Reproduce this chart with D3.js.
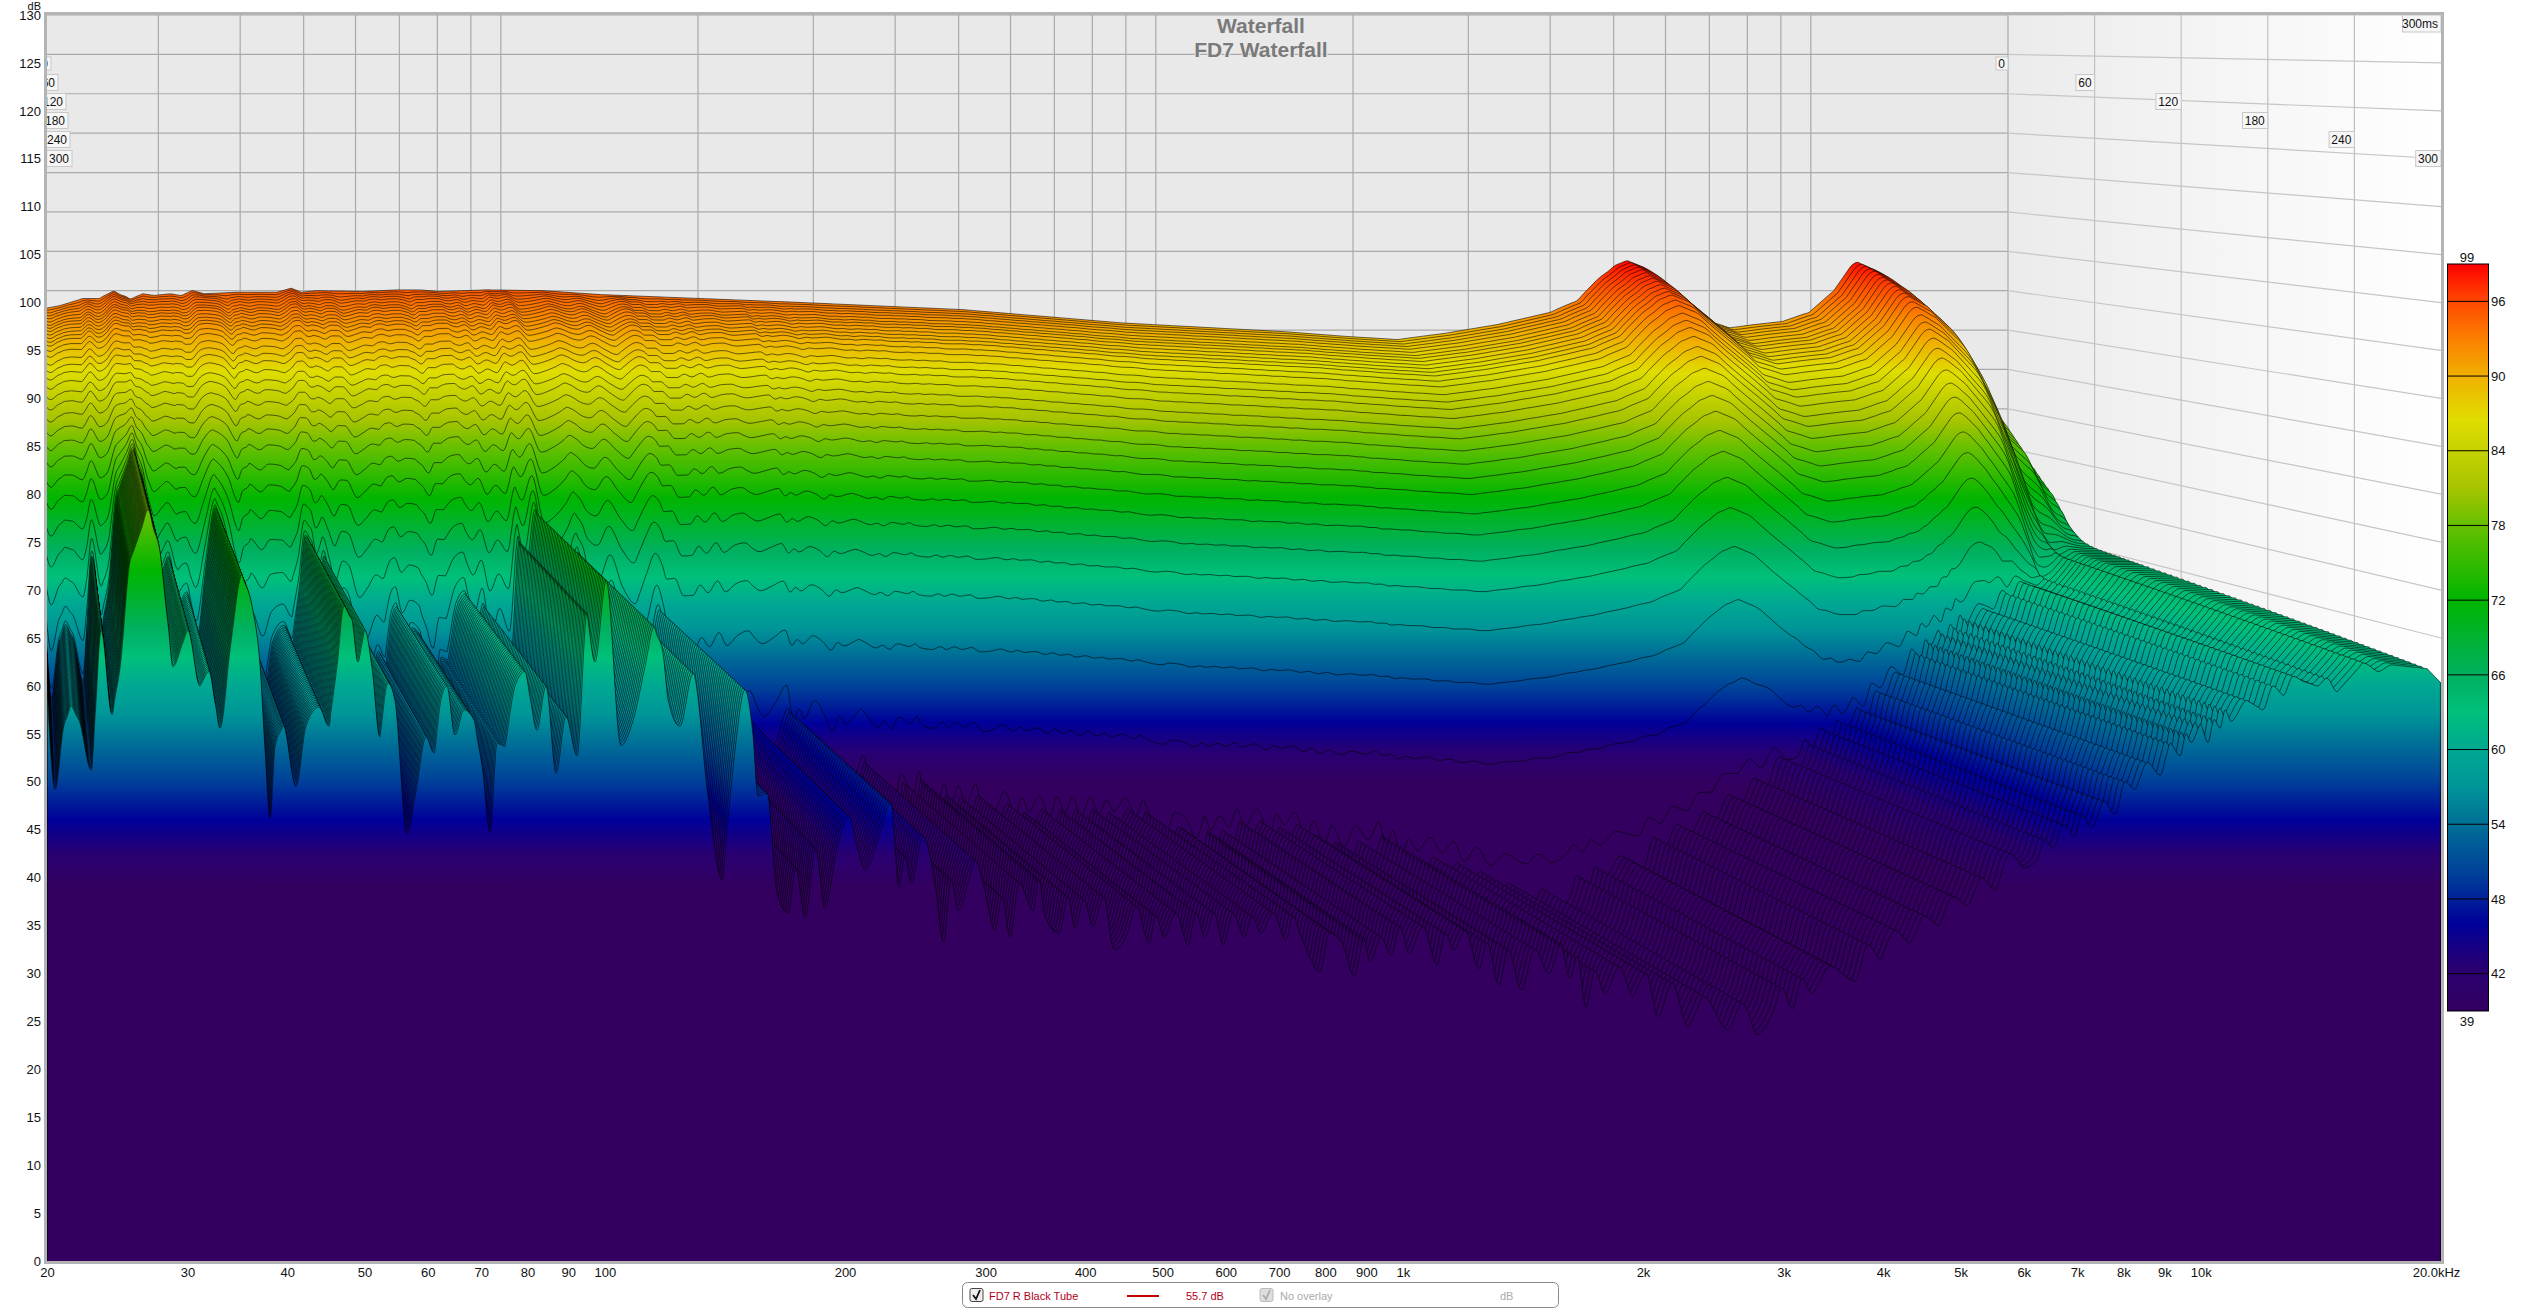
<!DOCTYPE html>
<html><head><meta charset="utf-8">
<script src="https://cdn.jsdelivr.net/npm/d3@7"></script>
<style>
html,body{margin:0;padding:0;background:#fff;}
svg{display:block;font-family:"Liberation Sans",Arial,sans-serif;}
</style></head><body><svg id="c" width="2523" height="1310"></svg>
<script>
// Values: the first slice (topHz/topDb), the last slice (noiseHz/noiseDb),
// the fall of the visible contour lines (decayDb) and how it varies with frequency (rateHz/rateVal).
// NOTE: the ~80 individual slices cannot each be read, so the slices between the first and the last
// are computed below from these read arrays; they are an approximation, not per-slice readings.
const topHz=[20,21.2,21.8,23,24.3,25.6,26.3,27.2,28.4,29.6,31.2,32.5,33.9,35.2,39.4,45.4,47.9,49.6,52.3,61.7,69.2,75.1,80.6,95.1,116,142.5,288,506,891,1571,1950,2337,2767,3322,3975,4387,4706,5050,5251,5550,5960,6395,6934,7540,8200,9058,9955,10840,11460,11790,12610,13720,14930,15790,16530,17500,18500,19300,19700,20000];
const topDb=[92.7,93.1,93.4,94,94,94.9,94.4,93.9,94.6,94.4,94.6,94.4,95,94.6,94.8,94.8,95.3,94.8,95,94.9,95.1,95.1,94.9,95.1,95,94.5,93.5,92.6,90.9,89.8,89.2,88.8,89.6,90.7,92.2,93.7,96.3,98.3,98.8,98,95.8,93.7,91.2,90.3,90.7,91.1,92.3,95,97.9,98.6,97.5,95,91.5,88,84.5,83,79,77.5,75,70];
const noiseHz=[20,20.47,20.99,21.43,21.94,22.72,23.38,24.13,24.7,25.41,26.77,27.71,28.19,28.76,30.03,31.09,31.92,32.95,34.12,35.11,36.14,36.99,37.52,38.07,38.62,39.52,41.02,42.22,43.84,45.12,46.17,47.11,48.21,49.05,50.05,51.07,52.26,53.48,54.57,56.5,58,59.7,61.1,62.3,63.4,64.9,66.6,68.6,70.2,71.8,73.3,75,77.2,79.4,82.2,84.4,86.9,89.4,92.3,95,97.2,100.4,104.8,108.5,112.3,115.3,118.3,120.1,124.2,129,134.7,140.2,145.6,149.8,153.3,155.6,159.7,164.4,169.7,173.6,178.2,183.9,188.7,195.4,202.3,207.6,211.9,220.6,228.3,233.7,237.8,242,250.5,259.3,265.7,271.6,277.1,291.1,297.9,308.3,314.6,322,330.4,344.1,350.1,356.2,370.9,380.6,388.3,398.5,409,421.6,434.6,449.9,463.8,480.8,490.6,502.8,519.7,538,550.6,565,580,595.6,613,632.5,647,664,688,714,728.6,743,787.5,809,839,869,892,910,939,967,992,1018,1060,1104,1130,1159,1197,1246,1275,1320,1355,1407,1464,1524,1575,1620,1654,1696,1741,1792,1867,1944,2018,2088,2175,2277,2382,2556,2662,2771,2911,2986,3075,3165,3257,3430,3689,3828,3974,4139,4322,4500,4700,4893,5094,5304,5539,5767,5989,6218,6382,6530,6721,6939,7100,7289,7545,7811,8040,8250,8566,8895,9153,9421,9587,9726,9980,10210,10390,10570,10730,10910,11420,11960,12320,12680,13050,13430,13990,14390,14820,15200,15970,16680,17360,19220,20000];
const noiseDb=[60,49.2,55.8,57.9,56.4,51.2,65.8,57,62,73,78.4,74,68.3,62,65.8,60,61.5,55.6,65.5,71.6,68.3,62,53.3,46.2,53.7,55.9,49.5,55.8,57.8,55.8,62,68.3,66.9,62.5,65.8,62,54.7,60.3,58.5,44.6,49,54.7,53,58.5,60,54.9,57.5,56.4,51.6,44.8,54,53.7,60,61.5,55.4,60,50.9,56.8,52.7,67.6,62.5,71,53.8,56.4,62,66.2,63.4,58.5,55.8,61.3,48.5,39.8,53.3,59.6,55,48.5,48.8,38.4,36.3,41,35.8,43,36.8,43,46.4,42.9,40.8,44.3,47.8,39,42.2,39.4,44.3,39.4,33.3,39.8,36.6,41.8,39.4,34.5,38,33.8,39.4,36.6,39.8,35.9,34.2,38,34.7,37.7,34.9,38,32.5,33.8,37,33.2,36,33.7,36.3,33,36.3,33.8,36.3,33,36.3,33.8,36,34.2,36.3,33.5,36,34.2,30.2,34.2,33.2,29.7,33.8,31.2,33.8,31.9,34.9,32.1,34.9,30.9,34.2,32.5,34.5,30.5,33.2,28.8,32.5,28.3,32.5,30,33.2,29.5,31.8,26.5,30.3,27.9,30.7,27.6,30,25.5,29,24.5,27.6,24.1,26.9,23.6,26,28.5,26.3,29.5,27.9,30.8,29.2,33,31.5,34.5,33.2,36,35,38,37.1,40,38.7,42.5,41,41.7,44,43.1,45.5,44.3,46.5,45.2,48,46.6,50,49.2,52,50.7,54,52.7,55,54.1,56,54.1,56.5,55.6,57.5,56.3,58.5,57.5,60,59,61,60.5,60,60.8,59.4,60.4,62.4,61.5,62.2,61.8,60.3];
const decayDb=[0,.17,.38,.6,.85,1.15,1.45,1.7,2,2.35,2.7,3.05,3.4,3.95,4.55,5.4,6.2,7,8,9.15,10.25,11.6,13.1,14.7,16.5,18.7,21.1,24.1,27.6,32.1,38.3,47.7,61,85,110,150];
const rippleGain=[0,.01,.02,.03,.035,.04,.045,.05,.05,.05,.05,.055,.06,.06,.065,.07,.07,.075,.08,.08,.09,.09,.1,.11,.12,.14,.16,.18,.2,.22,.25,.35,.5,.6,.6,.6];
const rateHz=[20,12000,14000,16500,20000];
const rateVal=[1,1,1.2,2,2.6];
const rippleHz=[20,150,300,1000,3000,20000];
const rippleWeight=[1,1,.4,.2,.08,.08];
const liftHz=[20,8000,20000];
const liftDb=[0,0,5];
const colorDb=[99,96,93,90,86.5,81,78,72,66,63,60,57,54,50,46,42.5,39];
const colorHex=["#ff0000","#ff4800","#fb8000","#f0b000","#e0dd00","#a6c400","#66c000","#00b500","#00b060","#00c07a","#00a892","#009598","#006f97","#004099","#000099","#290072","#330060"];
// Slice times: the shift of the contour peaks gives about 3.17 ms per slice for the first 33,
// the spacing of the hatching about 4.05 ms per slice after that.
const earlySliceMs=d3.range(0,33).map(k=>k*3.17);
const lateSliceMs=d3.range(1,50).map(k=>101.44+k*(300-101.44)/49);
const sliceMs=earlySliceMs.concat(lateSliceMs);
const yTicks=d3.range(0,131,5);
const xTickHz=[20,30,40,50,60,70,80,90,100,200,300,400,500,600,700,800,900,1000,2000,3000,4000,5000,6000,7000,8000,9000,10000,20000];
const xTickText=["20","30","40","50","60","70","80","90","100","200","300","400","500","600","700","800","900","1k","2k","3k","4k","5k","6k","7k","8k","9k","10k","20.0kHz"];
const gridHz=[30,40,50,60,70,80,90,100,200,300,400,500,600,700,800,900,1000,2000,3000,4000,5000,6000,7000,8000,9000,10000,20000];
const timeMs=[0,60,120,180,240,300];
const barTicks=[96,90,84,78,72,66,60,54,48,42];

const svg=d3.select("#c");
const L=47,R=2441,T=15,B=1261;
const xFront=d3.scaleLog().domain([20,20000]).range([L,R]);
const xBack=d3.scaleLog().domain([20,20000]).range([43,2008]);
const yFront=d3.scaleLinear().domain([0,130]).range([B,T]);
const yBack=d3.scaleLinear().domain([0,130]).range([1039,T]);
const tX=d3.scaleLinear().domain([0,300]).range([2008,2441]);
const tY=d3.scaleLinear().domain([0,300]).range([63.5,158.5]);
const depth=d3.scaleLinear().domain([0,300]).range([0,1]);
const mix=(a,b,p)=>a+(b-a)*p;
const defs=svg.append("defs");
defs.append("clipPath").attr("id","plot").append("rect").attr("x",L).attr("y",T).attr("width",R-L).attr("height",B-T);
const wall=defs.append("linearGradient").attr("id","wall").attr("gradientUnits","userSpaceOnUse").attr("x1",2008).attr("x2",2441).attr("y1",0).attr("y2",0);
wall.append("stop").attr("offset",0).attr("stop-color","#ebebeb");
wall.append("stop").attr("offset",1).attr("stop-color","#ffffff");
function addStops(g){colorDb.forEach((d,i)=>g.append("stop").attr("offset",(99-d)/60).attr("stop-color",colorHex[i]));}

const plot=svg.append("g").attr("clip-path","url(#plot)");
plot.append("rect").attr("x",L).attr("y",T).attr("width",2008-L).attr("height",B-T).attr("fill","#e9e9e9");
plot.append("rect").attr("x",2008).attr("y",T).attr("width",R-2008).attr("height",B-T).attr("fill","url(#wall)");
plot.selectAll(".gv").data(gridHz).join("line").attr("x1",d=>xBack(d)).attr("x2",d=>xBack(d)).attr("y1",T).attr("y2",1039).attr("stroke","#aaa").attr("stroke-width",1.2);
plot.selectAll(".gh").data(yTicks).join("line").attr("x1",L).attr("x2",2008).attr("y1",d=>yBack(d)).attr("y2",d=>yBack(d)).attr("stroke","#aaa").attr("stroke-width",1.2);
plot.selectAll(".rh").data(yTicks).join("line").attr("x1",2008).attr("x2",R).attr("y1",d=>yBack(d)).attr("y2",d=>yFront(d)).attr("stroke","#c6c6c6").attr("stroke-width",1.2);
plot.selectAll(".rv").data(timeMs.slice(1,5)).join("line").attr("x1",d=>tX(d)).attr("x2",d=>tX(d)).attr("y1",T).attr("y2",B).attr("stroke","#c0c0c0").attr("stroke-width",1.2);

const grid=Array.from(new Set(noiseHz.concat(topHz))).sort((a,b)=>a-b);
const topAt=d3.scaleLog().domain(topHz).range(topDb);
const noiseAt=d3.scaleLog().domain(noiseHz).range(noiseDb);
const rateAt=d3.scaleLog().domain(rateHz).range(rateVal);
const weightAt=d3.scaleLog().domain(rippleHz).range(rippleWeight);
const liftAt=d3.scaleLog().domain(liftHz).range(liftDb);
const noiseVals=grid.map(f=>noiseAt(f));
const ripple=grid.map((f,i)=>{
  const near=grid.map((g,j)=>Math.abs(Math.log10(g/f))<0.05?noiseVals[j]:null).filter(v=>v!==null);
  return noiseVals[i]-d3.mean(near);
});
function sliceLevels(k,p){
  const d=k<decayDb.length?decayDb[k]:null, g=k<rippleGain.length?rippleGain[k]:0;
  return grid.map((f,i)=>{
    const n=noiseVals[i]+liftAt(f)*(1-p);
    if(d===null) return n;
    const a=topAt(f)-d*rateAt(f)+g*weightAt(f)*ripple[i];
    return 10*Math.log10(Math.pow(10,a/10)+Math.pow(10,n/10));
  });
}
const curve=d3.curveMonotoneX;
sliceMs.forEach((ms,k)=>{
  const p=depth(ms);
  const lv=sliceLevels(k,p);
  const pts=grid.map((f,i)=>[mix(xBack(f),xFront(f),p),mix(yBack(lv[i]),yFront(lv[i]),p)]);
  const id="s"+k;
  const gr=defs.append("linearGradient").attr("id",id).attr("gradientUnits","userSpaceOnUse")
    .attr("x1",0).attr("x2",0).attr("y1",mix(yBack(99),yFront(99),p)).attr("y2",mix(yBack(39),yFront(39),p));
  addStops(gr);
  plot.append("path").attr("d",d3.area().x(d=>d[0]).y1(d=>d[1]).y0(B+4).curve(curve)(pts)).attr("fill","url(#"+id+")");
  plot.append("path").attr("d",d3.line().x(d=>d[0]).y(d=>d[1]).curve(curve)(pts)).attr("fill","none").attr("stroke","#000").attr("stroke-opacity",.72).attr("stroke-width",.8);
  if(k===sliceMs.length-1){
    const last=pts[pts.length-1];
    plot.append("line").attr("x1",last[0]-.6).attr("x2",last[0]-.6).attr("y1",last[1]).attr("y2",B).attr("stroke","#000").attr("stroke-opacity",.55);
    plot.append("line").attr("x1",L+.5).attr("x2",L+.5).attr("y1",pts[0][1]).attr("y2",B).attr("stroke","#000").attr("stroke-opacity",.55);
  }
});

function timeBox(parent,xRight,y,txt,h){
  const w=txt.length*6.6+5.5;
  parent.append("rect").attr("x",xRight-w).attr("y",y-h/2).attr("width",w).attr("height",h).attr("fill","#f6f6f6").attr("stroke","#c8c8c8").attr("stroke-width",1);
  parent.append("text").attr("x",xRight-3).attr("y",y).attr("dy","0.36em").attr("text-anchor","end").attr("font-size",12).attr("fill","#111").text(txt);
}
const leftRight=[51,58,66,68,70,72];
timeMs.forEach((t,i)=>{
  timeBox(plot,tX(t),tY(t),String(t),i===0?13:16);
  timeBox(plot,leftRight[i],tY(t),String(t),i===0?13:16);
});
timeBox(plot,R,23.5,"300ms",17);

svg.append("rect").attr("x",L-1.5).attr("y",T-1.5).attr("width",R-L+3).attr("height",B-T+3).attr("fill","none").attr("stroke","#b4b4b4").attr("stroke-width",3);

const ax=svg.append("g").attr("transform","translate(0,"+(B+4)+")").call(d3.axisBottom(xFront).tickValues(xTickHz).tickSize(0).tickPadding(3).tickFormat((d,i)=>xTickText[i]));
ax.select(".domain").remove();
ax.selectAll("text").attr("font-size",13).attr("font-family","inherit").attr("fill","#111");
ax.selectAll(".tick").filter(d=>d===20000).select("text").attr("dx",-5);
const ay=svg.append("g").attr("transform","translate("+L+",0)").call(d3.axisLeft(yFront).tickValues(yTicks).tickSize(0).tickPadding(6));
ay.select(".domain").remove();
ay.selectAll("text").attr("font-size",13).attr("font-family","inherit").attr("fill","#111");
svg.append("text").attr("x",41).attr("y",10).attr("text-anchor","end").attr("font-size",11).attr("fill","#111").text("dB");

[["Waterfall",25],["FD7 Waterfall",49]].forEach(d=>{
  svg.append("text").attr("x",1261).attr("y",d[1]).attr("dy","0.36em").attr("text-anchor","middle").attr("font-size",21).attr("font-weight","bold").attr("fill","#7a7a7a").attr("stroke","#e9e9e9").attr("stroke-width",2).attr("paint-order","stroke").text(d[0]);
});

const barY=d3.scaleLinear().domain([39,99]).range([1011,264]);
const bg=defs.append("linearGradient").attr("id","bar").attr("x1",0).attr("x2",0).attr("y1",0).attr("y2",1);
addStops(bg);
svg.append("rect").attr("x",2447.5).attr("y",barY(99)).attr("width",41).attr("height",barY(39)-barY(99)).attr("fill","url(#bar)").attr("stroke","#000").attr("stroke-width",1);
svg.selectAll(".bt").data(barTicks).join("line").attr("x1",2447).attr("x2",2489).attr("y1",d=>barY(d)).attr("y2",d=>barY(d)).attr("stroke","#000").attr("stroke-width",1);
svg.selectAll(".bl").data(barTicks).join("text").attr("x",2491).attr("y",d=>barY(d)).attr("dy","0.36em").attr("font-size",13).attr("fill","#111").text(d=>d);
svg.append("text").attr("x",2467).attr("y",257).attr("dy","0.36em").attr("text-anchor","middle").attr("font-size",13).attr("fill","#111").text("99");
svg.append("text").attr("x",2467).attr("y",1021).attr("dy","0.36em").attr("text-anchor","middle").attr("font-size",13).attr("fill","#111").text("39");

const lg=svg.append("g");
lg.append("rect").attr("x",962.5).attr("y",1282.5).attr("width",596).attr("height",25).attr("rx",5).attr("fill","#fff").attr("stroke","#888").attr("stroke-width",1);
function check(x,col,fill,sw){
  lg.append("rect").attr("x",x).attr("y",1288.5).attr("width",13).attr("height",13).attr("rx",2).attr("fill",fill).attr("stroke",col);
  lg.append("path").attr("d","M"+(x+3)+" 1295 L"+(x+6)+" 1299 L"+(x+10)+" 1290").attr("fill","none").attr("stroke",sw).attr("stroke-width",1.8);
}
check(970,"#444","#eee","#111");
check(1260,"#bbb","#ddd","#aaa");
const legendText=[[989,"FD7 R Black Tube","#b00018"],[1186,"55.7 dB","#b00018"],[1280,"No overlay","#aaa"],[1500,"dB","#aaa"]];
legendText.forEach(d=>lg.append("text").attr("x",d[0]).attr("y",1296).attr("dy","0.36em").attr("font-size",11).attr("fill",d[2]).text(d[1]));
lg.append("line").attr("x1",1127).attr("x2",1159).attr("y1",1296).attr("y2",1296).attr("stroke","#c00000").attr("stroke-width",2);
</script></body></html>
